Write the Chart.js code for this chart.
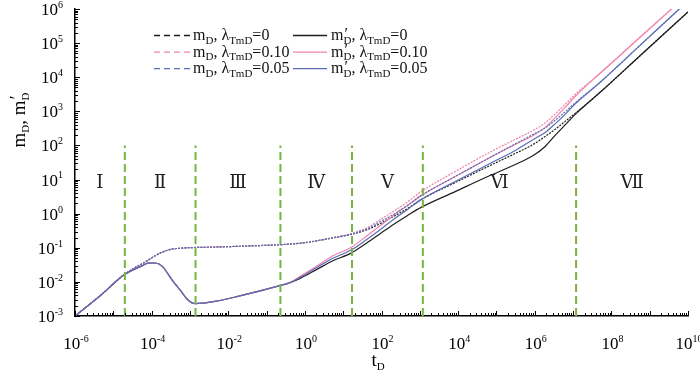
<!DOCTYPE html>
<html><head><meta charset="utf-8">
<script src="https://cdn.jsdelivr.net/npm/chart.js@4"></script>
<style>html,body{margin:0;padding:0;background:#fff}#wrap{width:700px;height:382px;position:relative}</style>
</head><body><div id="wrap"><canvas id="c" width="700" height="382"></canvas></div>
<script>
// ---- data ----
const tD = [1e-6, 4.5e-6, 1.9e-5, 3.1e-5, 5.6e-5, 8.0e-5, 1.23e-4, 1.87e-4, 3.4e-4, 5.5e-4,
  8.4e-4, 1.36e-3, 4.5e-3, 0.02, 0.21, 0.41, 0.75, 2.1, 5.4, 16,
  42, 92, 200, 470, 1080, 8400, 68000, 3.1e5, 9.1e5, 1.87e6,
  3.4e6, 6.2e6, 1.14e7, 5.1e7, 5.6e8, 1e10];

// m_D (dashed)
const mD_0 = [1e-3, 3.9e-3, 0.0161, 0.0233, 0.0338, 0.0429, 0.0582, 0.0738, 0.0916, 0.0966,
  0.100, 0.102, 0.105, 0.111, 0.1225, 0.1285, 0.1355, 0.161, 0.195, 0.245,
  0.338, 0.508, 0.816, 1.40, 2.58, 8.17, 25.8, 58.2, 107, 184,
  296, 508, 873, 3620, 42600, 8.2e5];
const mD_010 = [1e-3, 3.9e-3, 0.0161, 0.0233, 0.0338, 0.0429, 0.0582, 0.0738, 0.0916, 0.0966,
  0.100, 0.102, 0.105, 0.111, 0.1225, 0.1285, 0.1355, 0.161, 0.199, 0.26,
  0.387, 0.667, 1.145, 2.18, 4.44, 17.2, 63.6, 150, 276, 459,
  843, 1607, 3162, 13120, 148000, 2.72e6];
const mD_005 = [1e-3, 3.9e-3, 0.0161, 0.0233, 0.0338, 0.0429, 0.0582, 0.0738, 0.0916, 0.0966,
  0.100, 0.102, 0.105, 0.111, 0.1225, 0.1285, 0.1355, 0.161, 0.197, 0.253,
  0.362, 0.582, 0.935, 1.72, 3.38, 12.25, 44.4, 111, 211, 327,
  543, 966, 1778, 7130, 86100, 1.72e6];

// m'_D (solid)
const dmD_0 = [1e-3, 3.9e-3, 0.0161, 0.0218, 0.0295, 0.0355, 0.0358, 0.029, 0.0115, 5.8e-3,
  3.16e-3, 2.3e-3, 2.67e-3, 3.87e-3, 7.62e-3, 9.53e-3, 0.01267, 0.02366, 0.0415, 0.0698,
  0.140, 0.258, 0.474, 0.873, 1.53, 4.44, 13.1, 27.6, 50.8, 93.5,
  197, 401, 817, 3620, 42600, 8.2e5];
const dmD_010 = [1e-3, 3.9e-3, 0.0161, 0.0218, 0.0295, 0.0355, 0.0358, 0.029, 0.0115, 5.8e-3,
  3.16e-3, 2.3e-3, 2.67e-3, 3.87e-3, 7.62e-3, 9.53e-3, 0.01452, 0.0296, 0.0582, 0.102,
  0.225, 0.444, 0.873, 1.72, 3.38, 12.25, 44.4, 107, 197, 338,
  644, 1300, 2760, 13120, 148000, 2.72e6];
const dmD_005 = [1e-3, 3.9e-3, 0.0161, 0.0218, 0.0295, 0.0355, 0.0358, 0.029, 0.0115, 5.8e-3,
  3.16e-3, 2.3e-3, 2.67e-3, 3.87e-3, 7.62e-3, 9.53e-3, 0.01355, 0.0267, 0.0491, 0.0855,
  0.178, 0.338, 0.667, 1.31, 2.58, 8.73, 29.6, 71.2, 150, 241,
  429, 817, 1663, 7130, 86100, 1.72e6];

// flow-regime boundaries (t_D) and region labels
const boundaries = [2e-5, 1.4e-3, 0.23, 17, 1200, 1.2e7];
const boundaryTop = 100;
const regionLabels = ['Ⅰ', 'Ⅱ', 'Ⅲ', 'Ⅳ', 'Ⅴ', 'Ⅵ', 'Ⅶ'];
const regionLabelY = 7.6;

// tick labels (powers of ten)
const xTickExps = [-6, -4, -2, 0, 2, 4, 6, 8, 10];
const yTickExps = [-3, -2, -1, 0, 1, 2, 3, 4, 5, 6];

// ---- styling ----
const C_BLACK = '#1e1e1e', C_PINK = '#f082ac', C_BLUE = '#5a6cb6', C_GREEN = '#77b443';
const SERIF = '"Liberation Serif","Times New Roman",serif';

function series(label, vals, color, dashed, order) {
  return {
    label, data: tD.map((t, i) => ({x: t, y: vals[i]})),
    borderColor: color, borderWidth: 1.2, borderDash: dashed ? [2, 1.2] : [],
    pointRadius: 0, fill: false, cubicInterpolationMode: 'monotone', order
  };
}

const datasets = [
  series("mD λ=0", mD_0, C_BLACK, true, 6),
  series("m'D λ=0", dmD_0, C_BLACK, false, 5),
  series("mD λ=0.10", mD_010, C_PINK, true, 4),
  series("m'D λ=0.10", dmD_010, C_PINK, false, 3),
  series("mD λ=0.05", mD_005, C_BLUE, true, 2),
  series("m'D λ=0.05", dmD_005, C_BLUE, false, 1),
];
boundaries.forEach(b => datasets.push({
  label: 'b', data: [{x: b, y: 1e-3}, {x: b, y: boundaryTop}],
  borderColor: C_GREEN, borderWidth: 2, borderDash: [8, 4], pointRadius: 0, order: 0
}));

// segs: strings (normal), {sub, sup} (small), {sub, prime:true}
function drawRich(ctx, x, y, segs, size, align, ratio) {
  const small = Math.round(size * (ratio || 0.6));
  const parts = segs.map(s => {
    if (typeof s === 'string') { ctx.font = `${size}px ${SERIF}`; return {s, w: ctx.measureText(s).width}; }
    ctx.font = `${small}px ${SERIF}`;
    const ws = s.sub ? ctx.measureText(s.sub).width : 0;
    const wp = s.sup ? ctx.measureText(s.sup).width : 0;
    return {s, w: Math.max(ws, wp)};
  });
  const total = parts.reduce((a, p) => a + p.w, 0);
  let cx = align === 'center' ? x - total / 2 : align === 'right' ? x - total : x;
  ctx.textAlign = 'left'; ctx.textBaseline = 'alphabetic';
  for (const p of parts) {
    if (typeof p.s === 'string') { ctx.font = `${size}px ${SERIF}`; ctx.fillText(p.s, cx, y); }
    else {
      ctx.font = `${small}px ${SERIF}`;
      if (p.s.sub) ctx.fillText(p.s.sub, cx, y + size * 0.22);
      if (p.s.sup) ctx.fillText(p.s.sup, cx, y - size * 0.42);
      if (p.s.prime) { ctx.font = `${size}px ${SERIF}`; ctx.fillText('′', cx + 1, y - size * 0.08); }
    }
    cx += p.w;
  }
}

const decor = {
  id: 'decor',
  afterDraw(chart) {
    const ctx = chart.ctx, xs = chart.scales.x, ys = chart.scales.y, a = chart.chartArea;
    ctx.save();
    ctx.fillStyle = '#000'; ctx.strokeStyle = '#000'; ctx.lineWidth = 1;
    // inward ticks
    ctx.beginPath();
    for (let d = -6; d <= 10; d++) {
      for (let k = 1; k <= 9; k++) {
        const v = k * Math.pow(10, d); if (v > 1e10 * 1.0001) break;
        const px = Math.round(xs.getPixelForValue(v)) + 0.5;
        const len = k === 1 ? 5 : 3;
        ctx.moveTo(px, a.bottom); ctx.lineTo(px, a.bottom - len);
      }
    }
    for (let d = -3; d <= 6; d++) {
      for (let k = 1; k <= 9; k++) {
        const v = k * Math.pow(10, d); if (v > 1e6 * 1.0001) break;
        const py = Math.round(ys.getPixelForValue(v)) + 0.5;
        const len = k === 1 ? 5 : 3;
        ctx.moveTo(a.left, py); ctx.lineTo(a.left + len, py);
      }
    }
    ctx.stroke();
    // tick labels
    xTickExps.forEach(e => {
      drawRich(ctx, xs.getPixelForValue(Math.pow(10, e)) + 1, 349, ['10', {sup: String(e)}], 17, 'center');
    });
    yTickExps.forEach(e => {
      drawRich(ctx, 63, ys.getPixelForValue(Math.pow(10, e)) + 6, ['10', {sup: String(e)}], 17, 'right');
    });
    // axis titles
    drawRich(ctx, 378, 366, ['t', {sub: 'D'}], 19, 'center');
    ctx.save(); ctx.translate(25, 120); ctx.rotate(-Math.PI / 2);
    drawRich(ctx, 0, 0, ['m', {sub: 'D'}, ', m', {sub: 'D', prime: true}], 19, 'center');
    ctx.restore();
    // region labels
    const edges = [xs.min, ...boundaries, xs.max];
    ctx.font = `18px "DejaVu Serif",${SERIF}`; ctx.textAlign = 'center'; ctx.textBaseline = 'middle';
    ctx.fillStyle = '#222';
    regionLabels.forEach((lab, i) => {
      const mid = Math.sqrt(edges[i] * edges[i + 1]);
      ctx.fillText(lab, xs.getPixelForValue(mid), ys.getPixelForValue(regionLabelY));
    });
    // legend
    const rows = [['0', C_BLACK], ['0.10', C_PINK], ['0.05', C_BLUE]];
    rows.forEach((r, i) => {
      const y = 35 + i * 16.6;
      ctx.lineWidth = 1.3; ctx.strokeStyle = r[1];
      ctx.setLineDash([6, 4]); ctx.beginPath(); ctx.moveTo(154, y + 0.5); ctx.lineTo(191, y + 0.5); ctx.stroke();
      ctx.setLineDash([]); ctx.beginPath(); ctx.moveTo(293, y + 0.5); ctx.lineTo(327, y + 0.5); ctx.stroke();
      ctx.fillStyle = '#111';
      drawRich(ctx, 193, y + 5, ['m', {sub: 'D'}, ', λ', {sub: 'TmD'}, '=' + r[0]], 16, 'left', 0.66);
      drawRich(ctx, 331, y + 5, ['m', {sub: 'D', prime: true}, ', λ', {sub: 'TmD'}, '=' + r[0]], 16, 'left', 0.66);
    });
    ctx.restore();
  }
};

new Chart(document.getElementById('c'), {
  type: 'line',
  data: {datasets},
  options: {
    responsive: false, animation: false, events: [],
    layout: {padding: {left: 75, right: 12, top: 9, bottom: 66}},
    plugins: {legend: {display: false}, tooltip: {enabled: false}},
    scales: {
      x: {type: 'logarithmic', min: 1e-6, max: 1e10,
        ticks: {display: false}, grid: {display: false, drawTicks: false},
        border: {display: true, color: '#000', width: 1.5}},
      y: {type: 'logarithmic', min: 1e-3, max: 1e6,
        ticks: {display: false}, grid: {display: false, drawTicks: false},
        border: {display: true, color: '#000', width: 1.5}}
    }
  },
  plugins: [decor]
});
</script></body></html>
